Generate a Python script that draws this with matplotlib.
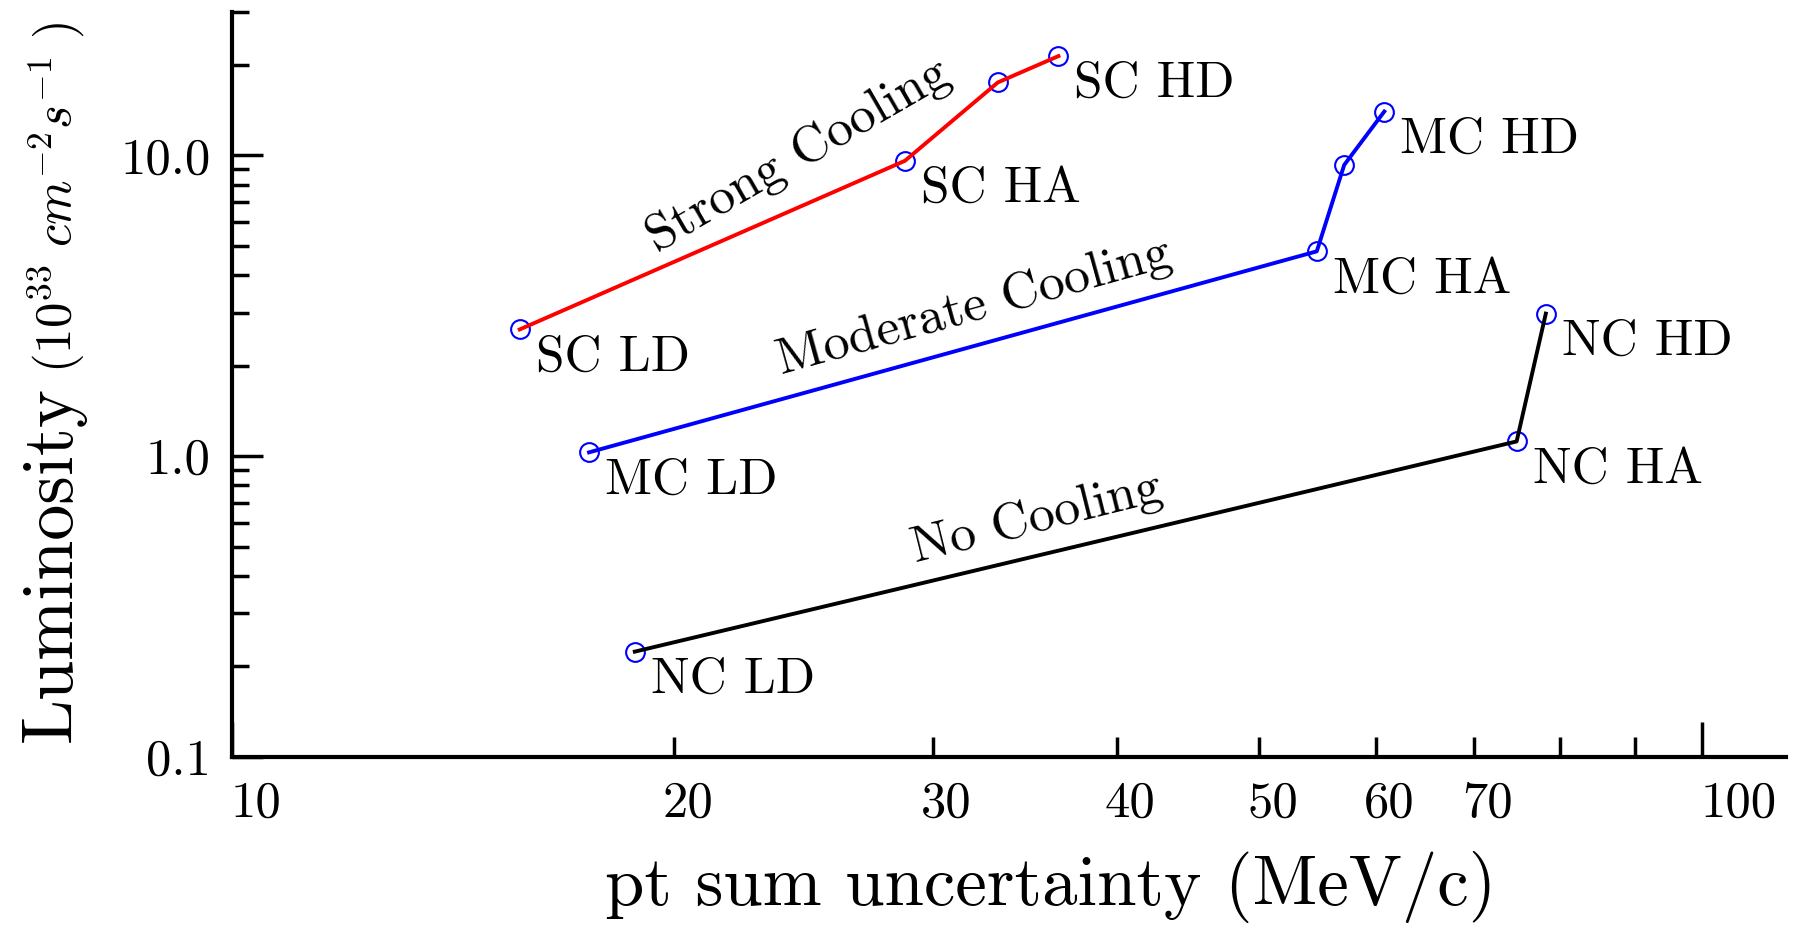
import matplotlib
matplotlib.use('Agg')
import matplotlib.pyplot as plt
import matplotlib.transforms as mtransforms
from matplotlib.ticker import FixedLocator, FixedFormatter, NullFormatter

plt.rcParams['font.family'] = 'cmr10'
plt.rcParams['mathtext.fontset'] = 'cm'
plt.rcParams['axes.unicode_minus'] = False
plt.rcParams['axes.formatter.use_mathtext'] = True

# strong cooling
sc_x = [15.7, 28.7, 33.2, 36.5]
sc_y = [2.64, 9.6, 17.5, 21.4]
sc_names = ['SC LD', 'SC HA', '', 'SC HD']

# moderate cooling
mc_x = [17.5, 54.7, 57.1, 60.8]
mc_y = [1.03, 4.8, 9.3, 14.0]
mc_names = ['MC LD', 'MC HA', '', 'MC HD']

# no cooling
nc_x = [18.8, 74.8, 78.3]
nc_y = [0.224, 1.12, 2.98]
nc_names = ['NC LD', 'NC HA', 'NC HD']

x_major = [10, 100]
x_major_labels = ['10', '100']
x_minor = [20, 30, 40, 50, 60, 70, 80, 90]
x_minor_labels = ['20', '30', '40', '50', '60', '70', '', '']
y_major = [0.1, 1.0, 10.0]
y_major_labels = ['0.1', '1.0', '10.0']
y_minor = [0.2, 0.3, 0.4, 0.5, 0.6, 0.7, 0.8, 0.9,
           2, 3, 4, 5, 6, 7, 8, 9, 20, 30]


fig = plt.figure(figsize=(17.99, 9.35), dpi=100)
ax = fig.add_axes([0.1288, 0.1904, 0.8638, 0.7968])
ax.set_xscale('log')
ax.set_yscale('log')
ax.set_xlim(10, 114)
ax.set_ylim(0.1, 30)

series = [(sc_x, sc_y, sc_names, 'red'),
          (mc_x, mc_y, mc_names, 'blue'),
          (nc_x, nc_y, nc_names, 'black')]
for xs, ys, names, col in series:
    ax.plot(xs, ys, 'o', ms=13.5, mfc='none', mec='blue', mew=1.5, zorder=2)
    ax.plot(xs, ys, '-', color=col, lw=2.8, zorder=3)
    for x, y, name in zip(xs, ys, names):
        if name:
            ax.annotate(name, (x, y), xytext=(16, -41), textcoords='offset pixels',
                        ha='left', va='baseline', fontsize=37)

# curve names
ax.text(24.3, 10.0, 'Strong Cooling', rotation=30, rotation_mode='anchor',
        ha='center', va='center', fontsize=37.5)
ax.text(32.0, 3.12, 'Moderate Cooling', rotation=15.5, rotation_mode='anchor',
        ha='center', va='center', fontsize=37.5)
ax.text(35.3, 0.62, 'No Cooling', rotation=14, rotation_mode='anchor',
        ha='center', va='center', fontsize=37.5)

# axes look
for side in ['top', 'right']:
    ax.spines[side].set_visible(False)
for side in ['left', 'bottom']:
    ax.spines[side].set_linewidth(3)

ax.xaxis.set_major_locator(FixedLocator(x_major))
ax.xaxis.set_major_formatter(FixedFormatter(x_major_labels))
ax.xaxis.set_minor_locator(FixedLocator(x_minor))
ax.xaxis.set_minor_formatter(FixedFormatter(x_minor_labels))
ax.yaxis.set_major_locator(FixedLocator(y_major))
ax.yaxis.set_major_formatter(FixedFormatter(y_major_labels))
ax.yaxis.set_minor_locator(FixedLocator(y_minor))
ax.yaxis.set_minor_formatter(NullFormatter())

ax.tick_params(axis='both', which='both', direction='in', top=False, right=False,
               labelsize=36.5, width=2.5)
ax.tick_params(axis='x', which='major', length=25, pad=17)
ax.tick_params(axis='x', which='minor', length=14.5, pad=17)
ax.tick_params(axis='y', which='major', length=22, pad=15)
ax.tick_params(axis='y', which='minor', length=12.5, pad=15)

# x tick labels are not centred on their ticks in the original
for lab in ax.xaxis.get_majorticklabels():
    lab.set_ha('left')
    lab.set_transform(lab.get_transform() +
                      mtransforms.ScaledTranslation(-1 / 72, 0, fig.dpi_scale_trans))
for lab in ax.xaxis.get_minorticklabels():
    lab.set_transform(lab.get_transform() +
                      mtransforms.ScaledTranslation(9.5 / 72, 0, fig.dpi_scale_trans))

# axis labels
ax.set_xlabel('pt sum uncertainty (MeV/c)', fontsize=51, va='baseline')
ax.xaxis.set_label_coords(0.5273, -0.1987)
ax.set_ylabel('Luminosity', fontsize=52, ha='left', va='baseline')
ax.yaxis.set_label_coords(-0.1034, 0.0201)
ax.text(-0.1034, 0.5154, r'$(10^{33}\ cm^{-2}s^{-1}\ )$', transform=ax.transAxes,
        rotation=90, rotation_mode='anchor', ha='left', va='baseline', fontsize=36.5)

fig.savefig('out.png', dpi=100)
